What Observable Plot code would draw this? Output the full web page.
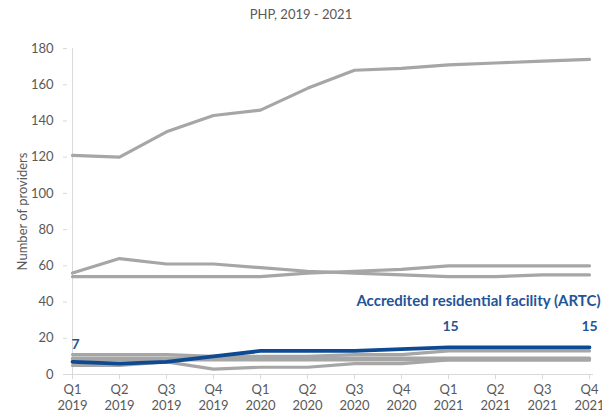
<!DOCTYPE html>
<html><head><meta charset="utf-8">
<script src="https://cdn.jsdelivr.net/npm/d3@7"></script>
<script src="https://cdn.jsdelivr.net/npm/@observablehq/plot@0.6"></script>
<style>
body{margin:0;background:#fff;font-family:Lato,"Open Sans",sans-serif;}
#title{height:28px;line-height:28px;text-align:center;font-size:13px;color:#595959;}
</style></head><body>
<div id="title">PHP, 2019 - 2021</div>
<div id="chart"></div>
<script>
const quarters = ["Q1\n2019","Q2\n2019","Q3\n2019","Q4\n2019","Q1\n2020","Q2\n2020","Q3\n2020","Q4\n2020","Q1\n2021","Q2\n2021","Q3\n2021","Q4\n2021"];
const other1 = [121,120,134,143,146,158,168,169,171,172,173,174];
const other2 = [56,64,61,61,59,57,56,55,54,54,55,55];
const other3 = [54,54,54,54,54,56,57,58,60,60,60,60];
const other4 = [11,11,11,10,10,10,11,11,13,13,13,13];
const other5 = [9,9,9,9,9,9,9,9,9,9,9,9];
const other6 = [8,8,8,8,8,8,8,8,8,8,8,8];
const other7 = [5,5,7,3,4,4,6,6,8,8,8,8];
const artc = [7,6,7,10,13,13,13,14,15,15,15,15];
const artcName = "Accredited residential facility (ARTC)";

const grays = {"Other 1":other1,"Other 2":other2,"Other 3":other3,"Other 4":other4,"Other 5":other5,"Other 6":other6,"Other 7":other7};
const grayRows = Object.entries(grays).flatMap(([name,vals]) => vals.map((v,i)=>({series:name,q:quarters[i],v})));
const artcRows = artc.map((v,i)=>({q:quarters[i],v,i}));

const blue = "#0d4a91";
const lblColor = "#1f5597";
const chart = Plot.plot({
  width: 602, height: 389,
  marginTop: 20, marginBottom: 43, marginLeft: 67, marginRight: 9,
  style: {fontFamily:"Lato, 'Open Sans', sans-serif", fontSize:"13px", color:"#595959", background:"#fff", overflow:"visible"},
  x: {type:"point", domain: quarters, padding: 0},
  y: {domain:[0,180]},
  marks: [
    Plot.ruleX([quarters[0]], {y1:0, y2:180, stroke:"#d9d9d9"}),
    Plot.ruleY([0], {stroke:"#d9d9d9"}),
    Plot.axisX({tickSize:5, stroke:"#d9d9d9", strokeOpacity:1, fill:"#595959", tickPadding:3, fontSize:13, lineHeight:1.25, label:null}),
    Plot.axisY({ticks: d3.range(0,181,20), tickSize:4, stroke:"#d9d9d9", strokeOpacity:1, fill:"#595959", tickPadding:10, fontSize:13, label:"Number of providers", labelAnchor:"center", labelArrow:"none", labelOffset:50}),
    Plot.line(grayRows, {x:"q", y:"v", z:"series", stroke:"#a6a6a6", strokeWidth:3.2}),
    Plot.line(artcRows, {x:"q", y:"v", stroke:blue, strokeWidth:3.8}),
    Plot.text(artcRows.filter(d=>d.i===0), {x:"q", y:"v", text:d=>String(d.v), fill:lblColor, fontWeight:"bold", fontSize:14, dy:-17, dx:3}),
    Plot.text(artcRows.filter(d=>d.i===8), {x:"q", y:"v", text:d=>String(d.v), fill:lblColor, fontWeight:"bold", fontSize:14, dy:-21, dx:2}),
    Plot.text(artcRows.filter(d=>d.i===11), {x:"q", y:"v", text:d=>String(d.v), fill:lblColor, fontWeight:"bold", fontSize:14, dy:-21, dx:0}),
    Plot.text(artcRows.filter(d=>d.i===11), {x:"q", y:"v", text:()=>artcName, fill:lblColor, fontWeight:"bold", fontSize:15, textAnchor:"end", dx:11, dy:-46})
  ]
});
document.getElementById("chart").appendChild(chart);
</script>
</body></html>
